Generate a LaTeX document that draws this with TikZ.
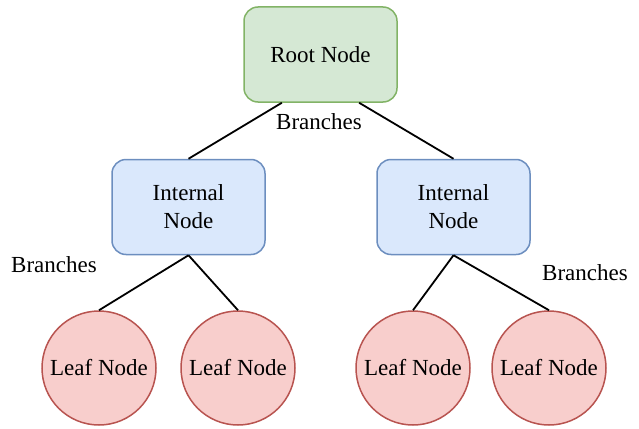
\documentclass[tikz,border=0pt]{standalone}
\usepackage{fontspec}
\setmainfont{Liberation Serif}
\usetikzlibrary{calc}
\definecolor{rootfill}{HTML}{D5E8D4}
\definecolor{rootline}{HTML}{82B366}
\definecolor{midfill}{HTML}{DAE8FC}
\definecolor{midline}{HTML}{6C8EBF}
\definecolor{leaffill}{HTML}{F8CECC}
\definecolor{leafline}{HTML}{B85450}
\tikzset{
  every node/.style={font=\fontsize{23}{28}\selectfont},
  boxnode/.style={draw, line width=1.5pt, rounded corners=14pt, minimum width=153pt,
    minimum height=95pt, align=center, inner sep=0pt},
  rootbox/.style={boxnode, fill=rootfill, draw=rootline},
  midbox/.style={boxnode, fill=midfill, draw=midline},
  leafcirc/.style={circle, draw=leafline, fill=leaffill, line width=1.5pt,
    minimum size=114pt, inner sep=0pt},
  branch/.style={draw=black, line width=1.8pt},
  tag/.style={inner sep=0pt}
}
\begin{document}
\begin{tikzpicture}[x=1pt,y=-1pt]
  \useasboundingbox (0,0) rectangle (639,428);
  % tree nodes
  \node[rootbox] (root) at (320.5,54.5) {Root Node};
  \node[midbox] (midL) at (188.5,207) {Internal\\Node};
  \node[midbox] (midR) at (453.5,207) {Internal\\Node};
  \node[leafcirc] (leaf1) at (99,368) {Leaf Node};
  \node[leafcirc] (leaf2) at (238,368) {Leaf Node};
  \node[leafcirc] (leaf3) at (413,368) {Leaf Node};
  \node[leafcirc] (leaf4) at (549,368) {Leaf Node};
  % edge labels
  \node[tag] (bTop) at (319,122) {Branches};
  \node[tag] (bLeft) at (54,265) {Branches};
  \node[tag] (bRight) at (585,273) {Branches};
  % branches
  \draw[branch] ($(root.south west)!0.25!(root.south east)$) -- (midL.north);
  \draw[branch] ($(root.south west)!0.75!(root.south east)$) -- (midR.north);
  \draw[branch] (midL.south) -- (leaf1.north);
  \draw[branch] (midL.south) -- (leaf2.north);
  \draw[branch] (midR.south) -- (leaf3.north);
  \draw[branch] (midR.south) -- (leaf4.north);
\end{tikzpicture}
\end{document}
